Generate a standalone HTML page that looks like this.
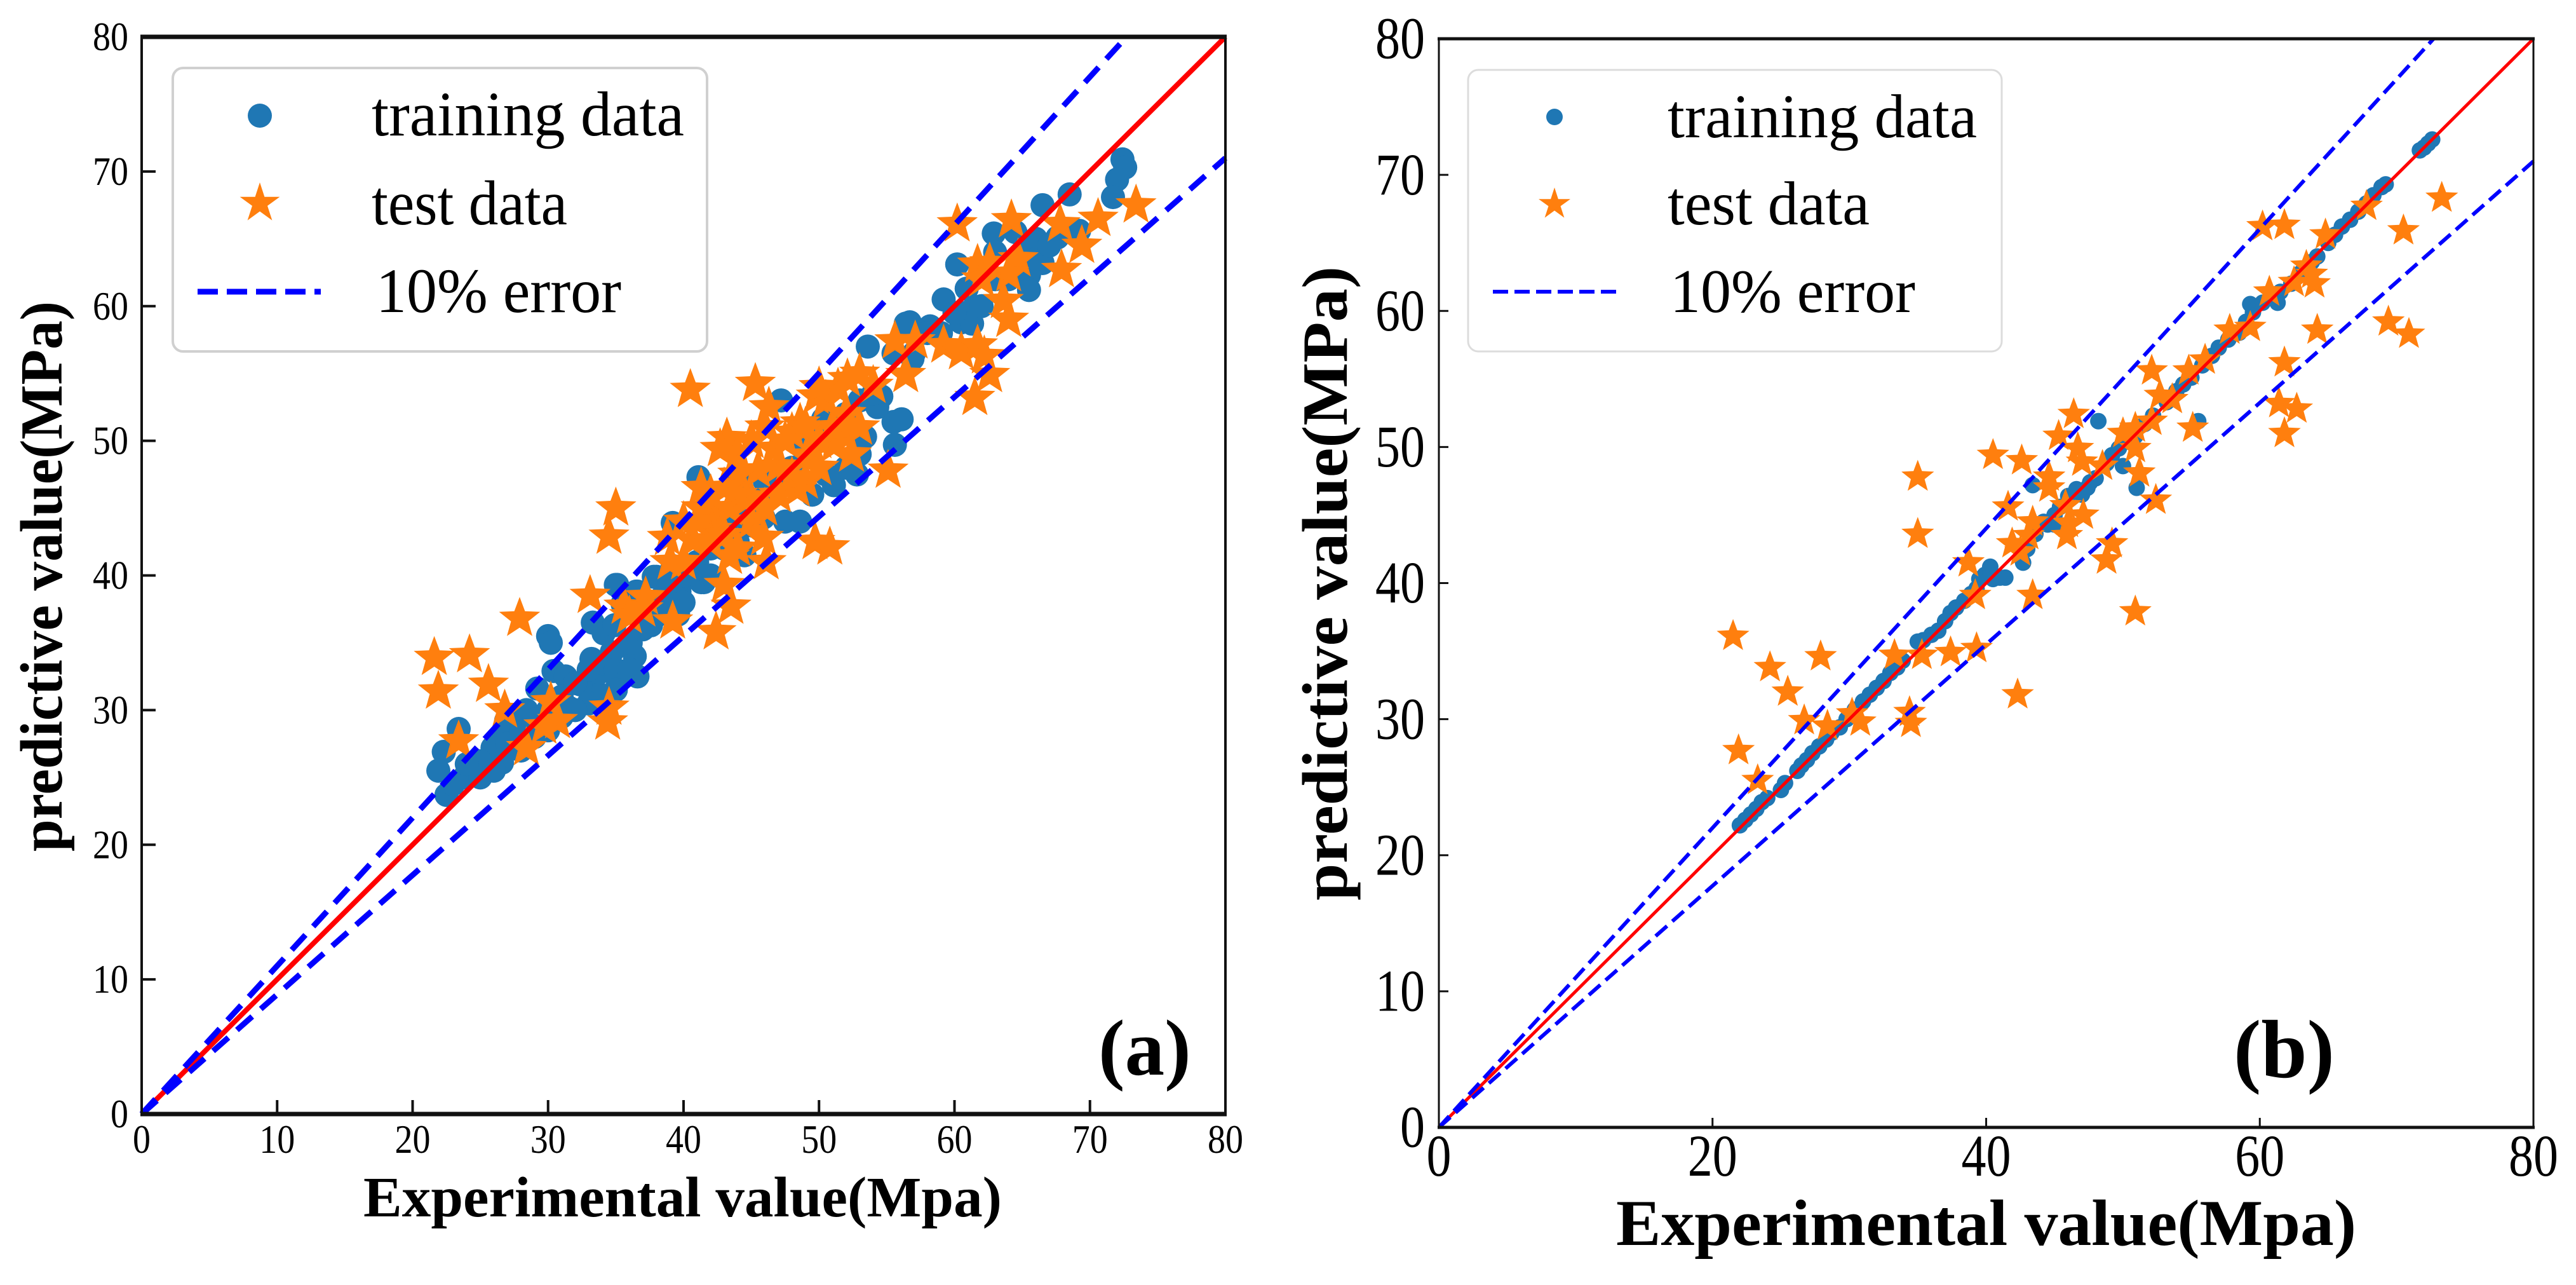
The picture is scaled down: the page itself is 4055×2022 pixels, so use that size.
<!DOCTYPE html>
<html lang="en">
<head>
<meta charset="utf-8">
<title>Predicted vs experimental strength</title>
<style>
html,body{margin:0;padding:0;background:#fff;}
svg{display:block;}
text{font-family:"Liberation Serif",serif;fill:#000;}
.b{font-weight:bold;}
</style>
</head>
<body>
<svg id="fig" xmlns="http://www.w3.org/2000/svg" width="4055" height="2022" viewBox="0 0 4055 2022">
  <rect x="0" y="0" width="4055" height="2022" fill="#fff"/>
  <g id="panelA"></g>
  <g id="panelB"></g>

  <g>
    <rect x="272" y="107" width="841" height="446" rx="16" fill="#fff" stroke="#d0d0d0" stroke-width="4"/>
    <circle cx="409" cy="182" r="19" fill="#1f77b4"/>
    <polygon fill="#ff7f0e" points="409,287 416.4,309.8 440.4,309.8 421,323.9 428.4,346.7 409,332.6 389.6,346.7 397,323.9 377.6,309.8 401.6,309.8"/>
    <line x1="311" y1="459" x2="505" y2="459" stroke="#0000ff" stroke-width="9" stroke-dasharray="32,14"/>
    <text x="585" y="213" font-size="100" textLength="492" lengthAdjust="spacingAndGlyphs">training data</text>
    <text x="585" y="353" font-size="100" textLength="308" lengthAdjust="spacingAndGlyphs">test data</text>
    <text x="592" y="491" font-size="100" textLength="386" lengthAdjust="spacingAndGlyphs">10% error</text>
  </g>
  <text class="b" x="1729" y="1691" font-size="125">(a)</text>
  <text class="b" x="572" y="1914" font-size="90" textLength="1005" lengthAdjust="spacingAndGlyphs">Experimental value(Mpa)</text>
  <text class="b" transform="translate(97,1340) rotate(-90)" font-size="94" textLength="866" lengthAdjust="spacingAndGlyphs">predictive value(MPa)</text>

  <g>
    <rect x="2311" y="110" width="840" height="443" rx="16" fill="#fff" stroke="#dcdcdc" stroke-width="3"/>
    <circle cx="2447" cy="184" r="13" fill="#1f77b4"/>
    <polygon fill="#ff7f0e" points="2447,295 2452.9,313.2 2472,313.2 2456.5,324.4 2462.4,342.6 2447,331.4 2431.6,342.6 2437.5,324.4 2422,313.2 2441.1,313.2"/>
    <line x1="2350" y1="459" x2="2547" y2="459" stroke="#0000ff" stroke-width="6" stroke-dasharray="24,10"/>
    <text x="2625" y="216" font-size="98" textLength="487" lengthAdjust="spacingAndGlyphs">training data</text>
    <text x="2625" y="353" font-size="98" textLength="318" lengthAdjust="spacingAndGlyphs">test data</text>
    <text x="2629" y="491" font-size="98" textLength="386" lengthAdjust="spacingAndGlyphs">10% error</text>
  </g>
  <text class="b" x="3516" y="1695" font-size="130">(b)</text>
  <text class="b" x="2544" y="1959" font-size="103" textLength="1165" lengthAdjust="spacingAndGlyphs">Experimental value(Mpa)</text>
  <text class="b" transform="translate(2120,1417) rotate(-90)" font-size="102" textLength="998" lengthAdjust="spacingAndGlyphs">predictive value(MPa)</text>
</svg>

<script>
// ---- Panel (a) data ----
const trainAX = [72.4,72.6,72,71.7,68.5,66.5,62.9,66,67.6,69.2,66.5,65.5,65.5,60.2,59.2,60.9,61.1,60.5,61.3,56.7,58.2,53.6,55.5,56.9,54.6,54.2,55.5,56.1,55.6,53.4,56.4,54.3,52.8,50.5,51.1,41.1,44,48.6,48.4,50.3,45.9,45.1,44,39.2,41.3,39.2,38,39.6,35,36.5,33.3,37.1,39.6,47.2,30,38.6,38.8,30.2,30.4,29.2,28.4,26.9,26.7,23.4,22.3,21.9,23.8,22.5,25.9,25,26.6,31.5,31.3,33.2,34.1,34.9,35.1,36.6,37.8,39.7,36.4,36.6,35.1,33.4,36.1,34.7,32.4,33.8,37.6,35.5,39.3,42,44,46,47,49,50,52,41,43,
  27,28,29,30,31,32,33,34,35,36,35,34,33,32,37,38,38.5,39,40,41,41.5,43,44,45,46,47,48,49,50,51,52,53,54,40,42,44.5,47.5,49.5,52,53,57,58,59,60,62,63,64,65,66,67,64.5,63,25,24,23,26,28,29,30,31];
const trainAY = [70.9,70.3,69.4,68.1,68.3,67.5,65.4,65,65.1,65.6,63.2,62.3,61.2,63.1,60.5,61.3,59.6,58.8,58.7,58.8,58.5,57,56.5,56.1,53.3,52.8,51.4,51.6,49.7,50.3,58.7,52.5,47.5,47.5,46.7,47.3,47.2,44,49.8,51.6,44.3,43.7,42.5,43.9,39.5,40.7,39.9,38.8,39.3,38.8,36.5,36.3,37.1,53,35.5,37.4,39.5,35,32.9,31.6,30,29.2,28,28.6,26.9,25.5,25,23.7,27.2,26.2,26.1,30.2,32.5,33.8,35.7,36.3,39.3,38.8,39.9,38.8,34,32.5,32.4,31.6,35,34.3,31.9,32.8,36.3,37.9,37.1,42,44,46,47,49,50,52,41,43,
  27.5,28.5,29.3,30,31,32,33,33.5,33,33,31.5,31,30.5,30,36,37,38.5,39.5,40,41,39.5,42,44,45,47,47.5,48,49,50,51,52,53,53.5,38,40,41.5,44,46,48,49,56.5,58,58,59.5,60,62,62,64,63.5,64.5,65.5,64,25,26,24.5,25.5,27,28,28.5,29.5];
const testAX = [40.5,45.3,46.3,48.6,49.8,52.1,51.4,54,56.4,55.6,43.2,42.7,52,52.4,55.1,48.4,41.3,41.3,42.1,38.8,35,34.5,49.7,50.8,45.9,46.1,43.4,43,43.5,42.4,33.1,27.9,35.6,39.2,47,47,44.9,43.4,42.1,40.7,46.7,49.1,48,51.1,48,45.5,37.2,60.2,64.2,70.6,67.8,73.4,69.4,67.9,61.7,62.6,64.7,64,62,63.6,64,57.1,59.2,60.5,61.7,62.2,62.6,61.5,21.6,24.2,21.9,25.6,26.8,23.4,30.2,30.7,29.7,28.4,34.5,34.4,
  44,45,46,49,50,50,51,52,53,50.5,49,47.5,46,45,44,44,43,42,41,40,39,40,42,43,44,50,53,37,36];
const testAY = [53.8,54.25,52.5,51.3,53.3,54.6,53.9,54.1,54.9,57.4,50.2,49.4,50.3,49,47.8,46.4,46.5,45,44.5,42.8,45,42.9,42.5,42.1,42.8,41,41.4,39.3,37.7,35.8,38.5,36.8,37.7,36.6,48.1,46,45.8,45,43.4,42.6,49.4,48.9,47.3,49.7,50.6,47.8,38.4,66.1,66.4,66.5,66.1,67.5,64.5,62.7,63.1,63.2,63.5,62.4,62,60.4,59,57.4,57.1,56.6,57.1,56.3,54.9,53.2,33.9,34.1,31.4,31.9,30,27.7,30.6,29.2,28.8,27.2,30.2,29.1,
  46,44,45,47,48,50,51,52,51,53,51,50,51,50,49,47.5,46.5,46,44,44,41,41,42.5,43,42,54,55,37.5,37];

// ---- Panel (b) data ----
const trainBX = [22,22.4,22.8,23.2,23.6,24,25,25.3,26.2,26.5,26.9,27.3,27.8,28.3,28.7,29.3,29.8,30.4,31,31.5,32,32.5,33,33.5,33.9,35,35.4,36,36.5,37,37.4,37.8,38.4,38.9,39.3,39.5,39.9,40.3,40.3,40.5,41,41.4,42.7,43,43.6,44.5,45,45.4,46,46.6,47.4,47.6,48,48.8,49.2,49.7,50.3,50.9,51.6,52.2,53.2,53.9,54.4,55,55.8,56.5,57,57.7,58,58.5,59,59.5,60.2,61,61.5,62.3,63,63.4,63.8,64.2,65,65.5,66,66.6,67.2,67.8,68.3,68.9,69.2,71.7,72,72.3,72.6,48.2,55.5,43.4,51,50,59.3,61.3,45,47,44.2];
const trainBY = [22.2,22.6,23,23.4,23.9,24.2,24.8,25.3,26.2,26.6,27,27.5,28,28.5,29,29.4,30,30.7,31.3,31.8,32.3,32.8,33.4,33.8,34.3,35.7,35.8,36.2,36.5,37.2,37.8,38.2,38.7,39.2,39.6,40.3,40.6,41.2,40.8,40.3,40.4,40.4,41.5,42.5,43.6,44.3,45,45.6,46.4,46.9,47,47.4,47.7,48.8,49.4,49.9,50.4,50.8,51.7,52.3,53.3,54.1,54.6,55.1,56,56.7,57.3,57.9,58.3,58.4,59.2,59.9,60.6,61,61.4,62,62.8,63.2,63.6,64,65,65.6,66.2,66.7,67.3,67.9,68.5,69.1,69.3,71.8,72,72.3,72.6,51.9,51.9,47.2,47,48.6,60.5,60.6,44.3,46.5,44.5];
const testBX = [73.3,70.5,61.8,60.2,64.8,67.8,69.4,70.9,64.2,59.3,57.8,61.8,52.1,56,54.8,52.7,53.6,61.4,62.7,61.8,55.1,46.4,45.3,52.1,50.9,50,46.7,40.5,42.6,47,48.5,50.9,51.2,44.6,44.6,35,52.4,41.6,45.8,43.4,47.1,46,45.9,43.1,41.9,42.5,49.2,48.8,35,38.7,39.2,43.4,50.9,21.5,63.4,62.5,63.8,60.7,64,21.9,23.3,24.2,25.5,27.9,26.7,28.4,30.2,30.8,34.4,34.5,42.3,33.3,35.3,37.4,39.3];
const testBY = [68.3,65.9,66.3,66.2,65.6,67.7,59.2,58.3,58.6,58.8,58.6,56.2,55.6,56.4,55.6,53.8,53.5,53.2,52.8,51,51.4,52.4,50.8,51.9,51.4,51,49.9,49.4,49,48.9,48.6,49.9,48.1,47.8,47,47.8,46.1,45.6,45.7,44.5,45,44.4,43.5,43.5,42.9,42.3,42.9,41.7,43.6,41.5,39.1,39.1,37.9,36.1,63.3,62.1,62.7,61.4,62,27.7,25.5,33.8,32,34.6,29.9,29.5,30.4,29.8,30.5,29.7,31.8,34.7,34.7,34.9,35.2];

// ---- Reference and error lines (shared) ----
const refLineX = [0, 80];
const refLineY = [0, 80];
const upperLineX = [0, 72.7];
const upperLineY = [0, 80];
const lowerLineX = [0, 80];
const lowerLineY = [0, 71];

// ---- Tick labels ----
const yTicks = [0,10,20,30,40,50,60,70,80];
const xTicksA = [0,10,20,30,40,50,60,70,80];
const xTicksB = [0,20,40,60,80];

const NS = 'http://www.w3.org/2000/svg';
function make(tag, attrs, parent){
  const el = document.createElementNS(NS, tag);
  for (const k in attrs) el.setAttribute(k, attrs[k]);
  parent.appendChild(el);
  return el;
}
function starPoints(cx, cy, R){
  const pts = [];
  for (let i = 0; i < 10; i++){
    const r = i % 2 ? R * 0.42 : R;
    const a = -Math.PI / 2 + i * Math.PI / 5;
    pts.push((cx + r * Math.cos(a)).toFixed(1) + ',' + (cy + r * Math.sin(a)).toFixed(1));
  }
  return pts.join(' ');
}

function drawPanel(g, box, style, trainX, trainY, testX, testY, xTicks){
  const sx = v => box.left + v * (box.right - box.left) / 80;
  const sy = v => box.bottom - v * (box.bottom - box.top) / 80;

  trainX.forEach((v, i) => {
    const c = make('circle', {cx: sx(v), cy: sy(trainY[i]), r: style.r, fill: '#1f77b4'}, g);
    
    
  });
  testX.forEach((v, i) => {
    const s = make('polygon', {points: starPoints(sx(v), sy(testY[i]), style.R), fill: '#ff7f0e'}, g);
    
    
  });

  const red = make('line', {x1: sx(refLineX[0]), y1: sy(refLineY[0]), x2: sx(refLineX[1]), y2: sy(refLineY[1]), stroke: '#ff0000', 'stroke-width': style.redW}, g);
  
  
  const up = make('line', {x1: sx(upperLineX[0]), y1: sy(upperLineY[0]), x2: sx(upperLineX[1]), y2: sy(upperLineY[1]), stroke: '#0000ff', 'stroke-width': style.dashW, 'stroke-dasharray': style.dash}, g);
  
  
  const lo = make('line', {x1: sx(lowerLineX[0]), y1: sy(lowerLineY[0]), x2: sx(lowerLineX[1]), y2: sy(lowerLineY[1]), stroke: '#0000ff', 'stroke-width': style.dashW, 'stroke-dasharray': style.dash}, g);
  
  

  const frame = make('path', {d: `M${box.left} ${box.bottom}V${box.top}M${box.right} ${box.top}V${box.bottom}`, fill: 'none', stroke: '#111', 'stroke-width': style.spine}, g);
  
  
  const frame2 = make('path', {d: `M${box.left - 2} ${box.top}H${box.right + 2}M${box.left - 2} ${box.bottom}H${box.right + 2}`, fill: 'none', stroke: '#111', 'stroke-width': style.spineH}, g);
  
  

  yTicks.forEach(v => {
    if (v > 0 && v < 80){
      const t = make('line', {x1: box.left, x2: box.left + style.tick, y1: sy(v), y2: sy(v), stroke: '#111', 'stroke-width': style.tickW}, g);
      
      
    }
    const s = String(v);
    const lab = make('text', {x: box.left - style.ylabGap, y: sy(v) + style.font * 0.33, 'font-size': style.font, 'text-anchor': 'end', textLength: s.length * style.digitW, lengthAdjust: 'spacingAndGlyphs'}, g);
    lab.textContent = s;
    
    
  });
  xTicks.forEach(v => {
    if (v > 0 && v < 80){
      const t = make('line', {x1: sx(v), x2: sx(v), y1: box.bottom, y2: box.bottom - style.tick, stroke: '#111', 'stroke-width': style.tickW}, g);
      
      
    }
    const s = String(v);
    const lab = make('text', {x: sx(v), y: style.xlabY, 'font-size': style.font, 'text-anchor': 'middle', textLength: s.length * style.digitW, lengthAdjust: 'spacingAndGlyphs'}, g);
    lab.textContent = s;
    
    
  });
}

drawPanel(document.getElementById('panelA'),
  {left: 223, right: 1929, top: 58, bottom: 1753},
  {r: 19, R: 34, redW: 8, dashW: 9, dash: '32,18', spine: 4, spineH: 7, tick: 22, tickW: 4, font: 64, digitW: 28, ylabGap: 21, xlabY: 1814},
  trainAX, trainAY, testAX, testAY, xTicksA);

drawPanel(document.getElementById('panelB'),
  {left: 2265, right: 3988, top: 61, bottom: 1774},
  {r: 13, R: 27, redW: 5, dashW: 6, dash: '24,11', spine: 3, spineH: 5, tick: 15, tickW: 3, font: 93, digitW: 39, ylabGap: 22, xlabY: 1850},
  trainBX, trainBY, testBX, testBY, xTicksB);
</script>
</body>
</html>
